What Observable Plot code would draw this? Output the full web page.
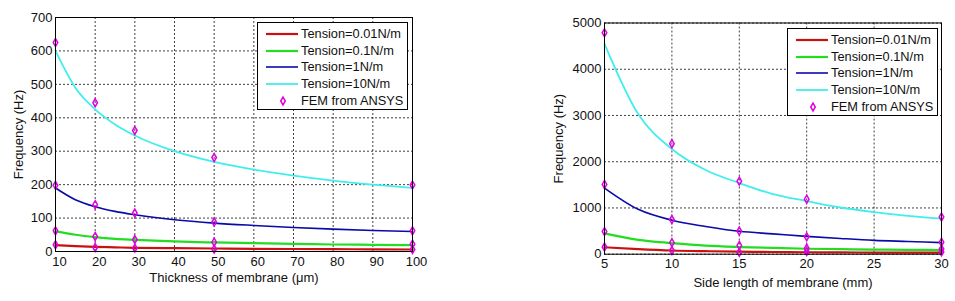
<!DOCTYPE html>
<html>
<head>
<meta charset="utf-8">
<script src="https://cdn.jsdelivr.net/npm/d3@7"></script>
<script src="https://cdn.jsdelivr.net/npm/@observablehq/plot@0.6"></script>
<style>
  html, body { margin: 0; padding: 0; background: #fff; }
  #root { position: relative; width: 955px; height: 301px; overflow: hidden; font-family: "Liberation Sans", Arial, sans-serif; }
  .chart { position: absolute; top: 0; }
  .legend { position: absolute; background: #fff; border: 1px solid #000; box-sizing: border-box; }
  .legend .row { position: absolute; left: 0; height: 16px; }
  .legend .txt { position: absolute; font-size: 12.8px; color: #111; white-space: nowrap; line-height: 16px; }
  .xlab { position: absolute; font-size: 13px; line-height: 15px; color: #111; white-space: nowrap; transform: translateX(-50%); }
</style>
</head>
<body>
<div id="root"></div>
<script>
// ---------- Left chart: frequency vs thickness ----------
const thickness = [10, 15, 20, 25, 30, 40, 50, 60, 70, 80, 90, 100];
const thickT001 = [19, 16, 14, 12.5, 11, 10, 9, 8, 7.5, 7, 6.5, 6];
const thickT01  = [60, 50, 43, 38, 35, 30, 27, 25, 23, 21, 20, 19];
const thickT1   = [190, 155, 134, 120, 110, 95, 85, 78, 72, 67, 63, 60];
const thickT10  = [600, 490, 425, 380, 347, 300, 268, 245, 227, 212, 200, 190];
const thickFemX = [10, 20, 30, 50, 100];
const thickFemT10  = [625, 445, 362, 281, 199];
const thickFemT1   = [198, 140, 115, 88, 62];
const thickFemT01  = [62, 45, 36, 28, 22];
const thickFemT001 = [20, 12, 10, 7, 6];
const thickXTicks = [10, 20, 30, 40, 50, 60, 70, 80, 90, 100];
const thickYTicks = [0, 100, 200, 300, 400, 500, 600, 700];

// ---------- Right chart: frequency vs side length ----------
const side = [5, 7.5, 10, 12.5, 15, 17.5, 20, 22.5, 25, 27.5, 30];
const sideT001 = [150, 110, 80, 65, 55, 48, 42, 38, 36, 35, 34];
const sideT01  = [450, 310, 240, 185, 155, 135, 118, 108, 100, 95, 90];
const sideT1   = [1430, 970, 735, 600, 495, 440, 385, 340, 300, 275, 250];
const sideT10  = [4550, 3030, 2275, 1820, 1540, 1300, 1150, 1010, 910, 830, 770];
const sideFemX = [5, 10, 15, 20, 30];
const sideFemT10  = [4790, 2390, 1580, 1190, 805];
const sideFemT1   = [1510, 750, 500, 375, 260];
const sideFemT01  = [490, 250, 190, 130, 110];
const sideFemT001 = [155, 80, 40, 60, 50];
const sideXTicks = [5, 10, 15, 20, 25, 30];
const sideYTicks = [0, 1000, 2000, 3000, 4000, 5000];

const seriesNames = ["Tension=0.01N/m", "Tension=0.1N/m", "Tension=1N/m", "Tension=10N/m"];
const femName = "FEM from ANSYS";
const seriesColors = ["#cc1010", "#22dd22", "#0a0aaa", "#40eeee"];
const seriesWidths = [2.2, 2.2, 1.6, 1.8];
const femColor = "#e000e0";
const femR = 2.4;

function chart(cfg) {
  const lines = cfg.ys.map((ys, i) =>
    Plot.line(cfg.xs.map((x, j) => ({x, y: ys[j]})), {
      x: "x", y: "y", stroke: seriesColors[i], strokeWidth: seriesWidths[i], curve: "monotone-x"
    }));
  const fem = [];
  cfg.femYs.forEach(ys => cfg.femX.forEach((x, j) => fem.push({x, y: ys[j]})));
  return Plot.plot({
    width: cfg.width, height: cfg.height,
    marginLeft: cfg.ml, marginRight: cfg.mr, marginTop: cfg.mt, marginBottom: cfg.mb,
    style: {fontFamily: '"Liberation Sans", Arial, sans-serif', fontSize: "13px", color: "#111", background: "transparent", overflow: "visible"},
    x: {domain: cfg.xDomain},
    y: {domain: cfg.yDomain},
    marks: [
      Plot.gridX(cfg.xTicks, {stroke: "#000", strokeOpacity: 0.75, strokeDasharray: "2,2"}),
      Plot.gridY(cfg.yTicks, {stroke: "#000", strokeOpacity: 0.75, strokeDasharray: "2,2"}),
      ...lines,
      Plot.dot(fem, {x: "x", y: "y", symbol: "diamond", stroke: femColor, fill: "none", r: femR, strokeWidth: 1.5}),
      Plot.frame({stroke: "#000", strokeWidth: 1}),
      Plot.axisX(cfg.xTicks, {tickSize: 0, tickPadding: 5, dx: cfg.xTickDx, tickFormat: d3.format("d"), fontSize: 13, label: null}),
      ...(cfg.xLabel ? [Plot.axisX({ticks: [], tickSize: 0, label: cfg.xLabel, labelAnchor: "center", labelArrow: "none", labelOffset: cfg.xLabelOffset, fontSize: 13})] : []),
      Plot.axisY(cfg.yTicks, {tickSize: 0, tickPadding: 3, tickFormat: d3.format("d"), label: cfg.yLabel, labelAnchor: "center", labelArrow: "none", labelOffset: cfg.yLabelOffset, fontSize: 13})
    ]
  });
}

function legend(left, top) {
  const el = document.createElement("div");
  el.className = "legend";
  el.style.left = left + "px"; el.style.top = top + "px";
  el.style.width = "151px"; el.style.height = "88px";
  const rowYs = [3, 20, 36, 53, 70];
  seriesNames.forEach((name, i) => {
    const row = document.createElement("div");
    row.className = "row"; row.style.top = rowYs[i] + "px"; row.style.width = "150px";
    row.innerHTML = `<svg width="44" height="16" style="position:absolute;left:0;top:0"><line x1="8" x2="40" y1="8" y2="8" stroke="${seriesColors[i]}" stroke-width="${seriesWidths[i]}"/></svg><span class="txt" style="left:43px;top:0">${name}</span>`;
    el.appendChild(row);
  });
  const row = document.createElement("div");
  row.className = "row"; row.style.top = rowYs[4] + "px"; row.style.width = "150px";
  const sym = d3.symbol(d3.symbolDiamond, Math.PI * femR * femR)();
  row.innerHTML = `<svg width="44" height="16" style="position:absolute;left:0;top:0"><path d="${sym}" transform="translate(25,8)" fill="none" stroke="${femColor}" stroke-width="1.5"/></svg><span class="txt" style="left:43px;top:0">${femName}</span>`;
  el.appendChild(row);
  return el;
}

const root = document.getElementById("root");

const left = chart({
  width: 430, height: 301, ml: 55, mr: 18, mt: 17, mb: 50,
  xs: thickness, ys: [thickT001, thickT01, thickT1, thickT10],
  femX: thickFemX, femYs: [thickFemT10, thickFemT1, thickFemT01, thickFemT001],
  xDomain: [10, 100], yDomain: [0, 700], xTicks: thickXTicks, yTicks: thickYTicks,
  xLabel: "Thickness of membrane (\u03bcm)", yLabel: "Frequency (Hz)",
  xLabelOffset: 30, yLabelOffset: 42, xTickDx: 4
});
left.classList.add("chart"); left.style.left = "0px";
root.appendChild(left);

const right = chart({
  width: 455, height: 301, ml: 104, mr: 14, mt: 22.5, mb: 47.3,
  xs: side, ys: [sideT001, sideT01, sideT1, sideT10],
  femX: sideFemX, femYs: [sideFemT10, sideFemT1, sideFemT01, sideFemT001],
  xDomain: [5, 30], yDomain: [0, 5000], xTicks: sideXTicks, yTicks: sideYTicks,
  xLabel: null, yLabel: "Frequency (Hz)",
  yLabelOffset: 51, xTickDx: 0
});
right.classList.add("chart"); right.style.left = "500px";
root.appendChild(right);

const rightXLabel = document.createElement("div");
rightXLabel.className = "xlab";
rightXLabel.textContent = "Side length of membrane (mm)";
rightXLabel.style.left = "783px"; rightXLabel.style.top = "275px";
root.appendChild(rightXLabel);

root.appendChild(legend(257, 22));
root.appendChild(legend(787, 28));
</script>
</body>
</html>
